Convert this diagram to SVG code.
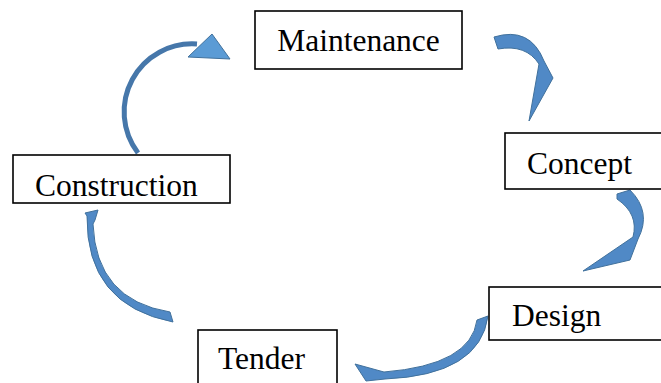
<svg xmlns="http://www.w3.org/2000/svg" width="661" height="383" viewBox="0 0 661 383">
<style>
.box{fill:#fff;stroke:#000;stroke-width:1.6}
.lbl{font-family:"Liberation Serif","Times New Roman",serif;font-size:31.5px;fill:#000}
.arr{fill:#5089C6;stroke:#41719C;stroke-width:1;stroke-linejoin:round}
.shaft{fill:none;stroke:#4677AA;stroke-width:5}
</style>
<defs>
<clipPath id="cpCon"><rect x="13" y="155" width="217" height="42"/></clipPath>
<clipPath id="cpDes"><rect x="489" y="287" width="172" height="50"/></clipPath>
</defs>
<rect width="661" height="383" fill="#fff"/>
<g id="connectors">
<path class="shaft" d="M138,153 A68,68 0 0 1 197,44"/>
<polygon class="arr" points="212,34 230,59 188,57" style="fill:#5B9BD5"/>
<path class="arr" d="M494,37 Q530,26 544,61 L553,78 L529,121 L539,64 Q526,44 498,49 Z"/>
<path class="arr" d="M617,194 L630,190 Q652,212 638,239 L630,260 L583,271 L633,237 Q639,214 617,199 Z"/>
<path class="arr" d="M488,316 Q480,375 385,379 L366,381 L355,364 L384,372 Q471,365 477,320 Z"/>
<path class="arr" d="M170,312 L173,322 Q86,305 87,216 L85,213 L98,210 L95,220 L93,224 Q96,300 170,312 Z"/>
</g>
<g id="maintenance">
<rect class="box" x="255" y="11" width="207" height="58"/>
<text class="lbl" x="358.5" y="51" text-anchor="middle">Maintenance</text>
</g>
<g id="concept">
<rect class="box" x="505" y="133" width="170" height="56"/>
<text class="lbl" x="527" y="174">Concept</text>
</g>
<g id="design">
<rect class="box" x="489" y="287" width="185" height="53"/>
<text class="lbl" x="512" y="326" clip-path="url(#cpDes)">Design</text>
</g>
<g id="tender">
<rect class="box" x="198" y="330" width="139" height="70"/>
<text class="lbl" x="218" y="369">Tender</text>
</g>
<g id="construction">
<rect class="box" x="13" y="155" width="217" height="48"/>
<text class="lbl" x="35" y="196" clip-path="url(#cpCon)">Construction</text>
</g>
</svg>
